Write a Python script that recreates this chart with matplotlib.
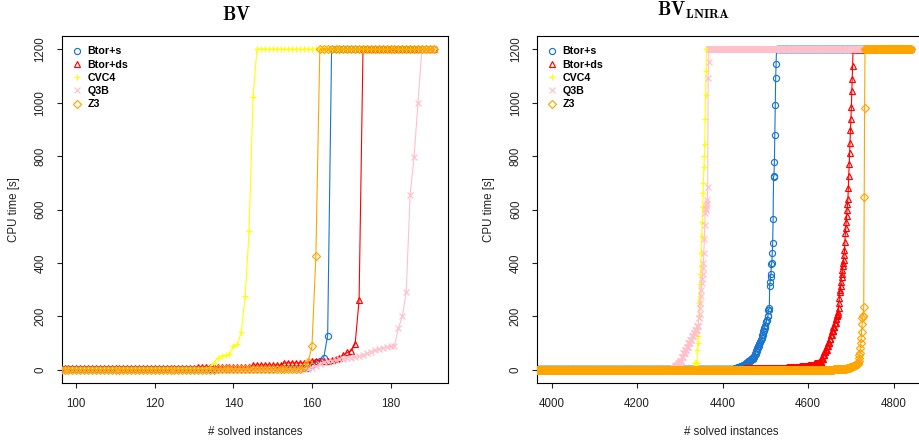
import numpy as np
import matplotlib
matplotlib.use('Agg')
import matplotlib.pyplot as plt
from matplotlib.lines import Line2D

#=============================DATA========================================
# cactus data as runs: n = how many consecutive instances, t = CPU time [s]
# unsolved instances are plotted at the timeout (1200 s)

solvers = ['Btor+s', 'Btor+ds', 'CVC4', 'Q3B', 'Z3']
colors = ['#1874CD', '#FF0000', '#FFFF00', '#FFC0CB', '#FFA500']
markers = ['o', '^', '+', 'x', 'D']
marker_sizes = [4.4, 4.6, 5.0, 4.4, 4.0]

# ---- BV (first visible instance = 96, total = 191)
bv_first = 96
bv_btor_s_n = [55, 9, 1, 1, 1, 1, 1, 27]
bv_btor_s_t = [3, 8, 20, 28, 35, 46, 128, 1200]
bv_btor_ds_n = [35, 14, 8, 7, 5, 1, 1, 1, 1, 1, 1, 1, 1, 19]
bv_btor_ds_t = [6, 10, 18, 26, 33, 36, 40, 45, 55, 65, 72, 97, 262, 1200]
bv_cvc4_n = [38, 1, 1, 1, 1, 1, 1, 1, 1, 1, 1, 1, 1, 46]
bv_cvc4_t = [3, 10, 25, 45, 52, 55, 58, 88, 95, 140, 275, 520, 1020, 1200]
bv_q3b_n = [62] + [1] * 30 + [4]
bv_q3b_t = [1, 3, 5, 8, 15, 22, 28, 32, 35, 37, 40, 42, 44, 45, 48, 52, 55,
            62, 68, 75, 78, 82, 85, 88, 90, 155, 200, 290, 655, 795, 1000,
            1200]
bv_z3_n = [40, 22, 1, 1, 1, 1, 30]
bv_z3_t = [1, 3, 10, 28, 88, 425, 1200]

# ---- BV_LNIRA (first visible instance = 3960, total = 4841)
ln_first = 3960
ln_btor_s_n = ([470, 6, 6, 6, 6, 6, 6, 6, 3, 3, 3, 2, 2, 2, 2, 2, 2, 2, 2, 2,
                2, 2, 2, 2, 2] + [1] * 17 + [316])
ln_btor_s_t = [2, 6, 10, 15, 20, 26, 32, 40, 48, 58, 70, 82, 90, 98, 105,
               112, 120, 132, 145, 156, 165, 178, 188, 200, 225,
               230, 312, 330, 349, 360, 395, 400, 437, 476, 564, 723, 725,
               779, 877, 990, 1092, 1143, 1200]
ln_btor_ds_n = ([490, 100, 30, 20, 15, 10, 6, 4] + [3] * 10 + [2] + [1] * 38
                + [137])
ln_btor_ds_t = [4, 7, 10, 14, 18, 24, 30, 40,
                55, 65, 75, 88, 100, 115, 130, 145, 160, 175, 190,
                200, 205, 210, 215, 230, 250, 270, 290, 300, 312, 330, 349,
                360, 375, 387, 400, 412, 430, 449, 480, 511, 530, 555, 575,
                599, 620, 640, 680, 726, 770, 811, 850, 898, 940, 983, 1044,
                1090, 1138, 1200]
ln_cvc4_n = [375, 6] + [1] * 21 + [480]
ln_cvc4_t = [3, 25, 75, 100, 125, 200, 250, 275, 320, 360, 387, 437, 500,
             552, 610, 661, 701, 760, 800, 846, 939, 1030, 1120, 1200]
ln_q3b_n = [324, 4, 4, 4] + [4] * 12 + [2] + [1] * 22 + [474]
ln_q3b_t = [2, 8, 14, 20, 25, 35, 48, 62, 75, 87, 100, 112, 125, 137, 150,
            165, 195, 210, 230, 250, 277, 300, 324, 340, 360, 380, 399, 437,
            490, 543, 586, 600, 605, 615, 625, 635, 686, 1092, 1150, 1200]
ln_z3_n = [700, 10, 10, 10, 8, 6, 5, 4, 4] + [1] * 16 + [109]
ln_z3_t = [1, 2, 3, 5, 8, 11, 15, 18, 22, 25, 35, 45, 55, 62, 80, 100, 120,
           141, 170, 193, 200, 202, 237, 646, 979, 1200]

#=============================FUNCTIONS========================================

def expandRuns(first, counts, times):
    '''
    turns (count, time) runs into x = instance number, y = CPU time
    '''
    y = np.repeat(np.asarray(times, dtype=float), counts)
    x = np.arange(first, first + len(y))
    return x, y

def drawCactus(ax, first, series, xlim, xticks):
    '''
    draws one cactus plot in the style of R base graphics
    '''
    for k, (counts, times) in enumerate(series):
        x, y = expandRuns(first, counts, times)
        ax.plot(x, y, color=colors[k], lw=0.8, marker=markers[k],
                ms=marker_sizes[k], mfc='none', mec=colors[k], mew=0.85,
                zorder=2 + k)

    # R adds 4% on both ends
    span = xlim[1] - xlim[0]
    ax.set_xlim(xlim[0] - 0.04 * span, xlim[1] + 0.04 * span)
    ax.set_ylim(-48, 1248)
    ax.set_xticks(xticks)
    ax.set_yticks([0, 200, 400, 600, 800, 1000, 1200])
    ax.tick_params(direction='out', length=3.6, width=0.8, pad=7.5,
                   labelsize=8.3, colors='#222222')
    for lab in ax.get_yticklabels():
        lab.set_rotation(90)
        lab.set_va('center')
    for sp in ax.spines.values():
        sp.set_linewidth(0.8)

    ax.set_xlabel('# solved instances', fontsize=8.3, color='#222222')
    ax.set_ylabel('CPU time [s]', fontsize=8.3, color='#222222')
    ax.xaxis.set_label_coords(0.5, -0.125)
    ax.yaxis.set_label_coords(-0.11, 0.5)

    handles = []
    for k in range(len(solvers)):
        handles.append(Line2D([], [], ls='none', marker=markers[k],
                              ms=marker_sizes[k], mfc='none',
                              mec=colors[k], mew=0.85))
    leg = ax.legend(handles, solvers, loc='upper left', frameon=False,
                    prop={'weight': 'bold', 'size': 7.7}, handlelength=0.9,
                    handletextpad=0.5, labelspacing=0.3,
                    borderaxespad=0.5, borderpad=0.45)
    leg.set_zorder(10)

#=============================MAIN========================================
plt.rcParams['font.family'] = ['Liberation Sans', 'DejaVu Sans']
plt.rcParams['mathtext.fontset'] = 'cm'

fig = plt.figure(figsize=(9.2, 4.41), dpi=100)
ax1 = fig.add_axes([62 / 920, 1 - 382.7 / 441, 386 / 920, 346.4 / 441])
ax2 = fig.add_axes([537.3 / 920, 1 - 382.7 / 441, 388.7 / 920, 346.4 / 441])

bv_series = [(bv_btor_s_n, bv_btor_s_t), (bv_btor_ds_n, bv_btor_ds_t),
             (bv_cvc4_n, bv_cvc4_t), (bv_q3b_n, bv_q3b_t),
             (bv_z3_n, bv_z3_t)]
ln_series = [(ln_btor_s_n, ln_btor_s_t), (ln_btor_ds_n, ln_btor_ds_t),
             (ln_cvc4_n, ln_cvc4_t), (ln_q3b_n, ln_q3b_t),
             (ln_z3_n, ln_z3_t)]

drawCactus(ax1, bv_first, bv_series, (100, 191), [100, 120, 140, 160, 180])
drawCactus(ax2, ln_first, ln_series, (4000, 4842),
           [4000, 4200, 4400, 4600, 4800])

fig.text(237 / 920, 1 - 20 / 441, r'$\mathbf{BV}$', ha='center',
         va='baseline', fontsize=13.5)
fig.text(694 / 920, 1 - 15.5 / 441, r'$\mathbf{BV}_{\mathbf{LNIRA}}$',
         ha='center', va='baseline', fontsize=13.5)

fig.savefig('out.png', dpi=100)
